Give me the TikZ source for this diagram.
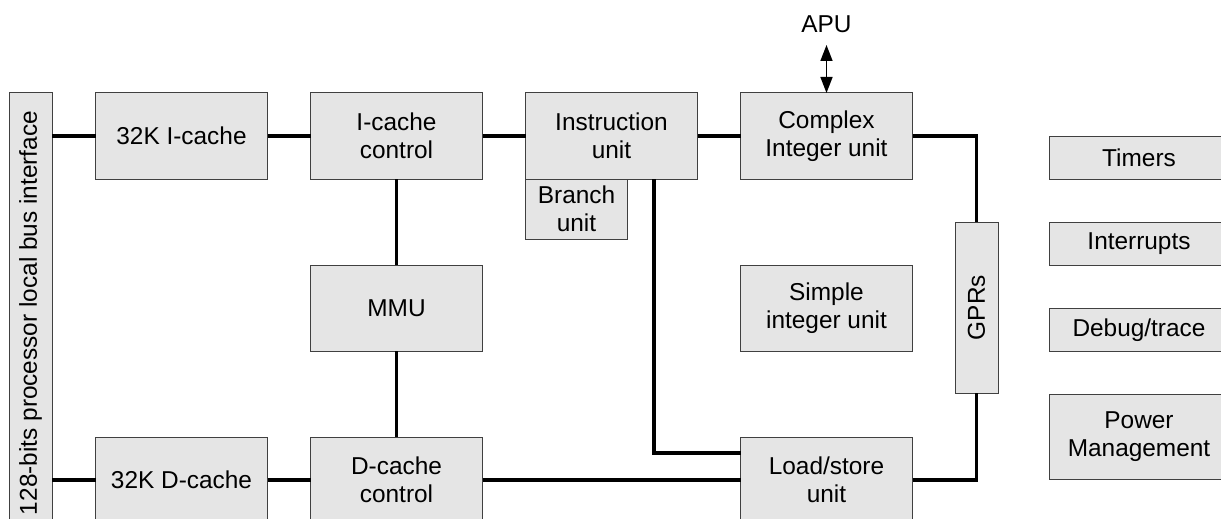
\documentclass[tikz,border=0pt]{standalone}
\usepackage{fontspec}
\setmainfont{Liberation Sans}
\usetikzlibrary{positioning}
\usetikzlibrary{arrows.meta}
\tikzset{>={Triangle[width=6pt,length=8pt]}}
\tikzset{block/.style={draw=black!75, line width=0.5pt, fill=gray!20, minimum width=86pt, minimum height=43pt, inner sep=0pt, outer sep=0pt, align=center}}
\tikzset{side/.style={block, minimum width=90pt, minimum height=21.5pt}}
\tikzset{link/.style={line width=1.7pt}}

\begin{document}
\begin{tikzpicture}[x=0.5pt, y=-0.5pt, node distance=43pt and 21.5pt, font=\fontsize{12.2}{14}\selectfont]
\useasboundingbox (0,0) rectangle (1221,519);
\clip (0,0) rectangle (1221,519);
\node (BUS) [block, minimum width=21.5pt, minimum height=220pt] at (30.5,313) {\rotatebox{90}{128-bits processor local bus interface}};
\node (IC) [block] at (181.5,136) {32K I-cache};
\node (ICC) [block, right=of IC] {I-cache\\control};
\node (IU) [block, right=of ICC] {Instruction\\unit};
\node (CIU) [block, right=of IU] {Complex\\Integer unit};
\node (BU) [block, minimum width=51pt, minimum height=30pt, anchor=north west] at (IU.south west) {Branch\\unit};
\node (APU) [above=24pt of CIU, inner sep=6pt] {APU};
\node (MMU) [block, below=of ICC] {MMU};
\node (DCC) [block, below=of MMU] {D-cache\\control};
\node (DC) [block, left=of DCC] {32K D-cache};
\node (SIU) [block, below=of CIU] {Simple\\integer unit};
\node (LSU) [block, below=of SIU] {Load/store\\unit};
\node (GPR) [block, minimum width=21.5pt, minimum height=85.5pt] at (976.5,307.5) {\rotatebox{90}{GPRs}};
\node (TIM) [side] at (1139,158) {Timers};
\node (INT) [side, below=21.5pt of TIM] {Interrupts};
\node (DBG) [side, below=21.5pt of INT] {Debug/trace};
\node (PWR) [side, minimum height=42.5pt, below=21.5pt of DBG] {Power\\Management};

\path [draw, <->, line width=0.75pt] (APU) -- (CIU);
\path [draw, link] (IC.west -| BUS.east) -- (IC);
\path [draw, link] (IC) -- (ICC);
\path [draw, link] (ICC) -- (IU);
\path [draw, link] (IU) -- (CIU);
\path [draw, link] (ICC) -- (MMU);
\path [draw, link] (MMU) -- (DCC);
\path [draw, link] (DC.west -| BUS.east) -- (DC);
\path [draw, link] (DC) -- (DCC);
\path [draw, link] (DCC) -- (LSU);
\path [draw, link] (CIU) -| (GPR);
\path [draw, link] (LSU) -| (GPR);
\path [draw, link] ([xshift=21.25pt]IU.south) |- ([yshift=13.5pt]LSU.west);
\end{tikzpicture}
\end{document}
